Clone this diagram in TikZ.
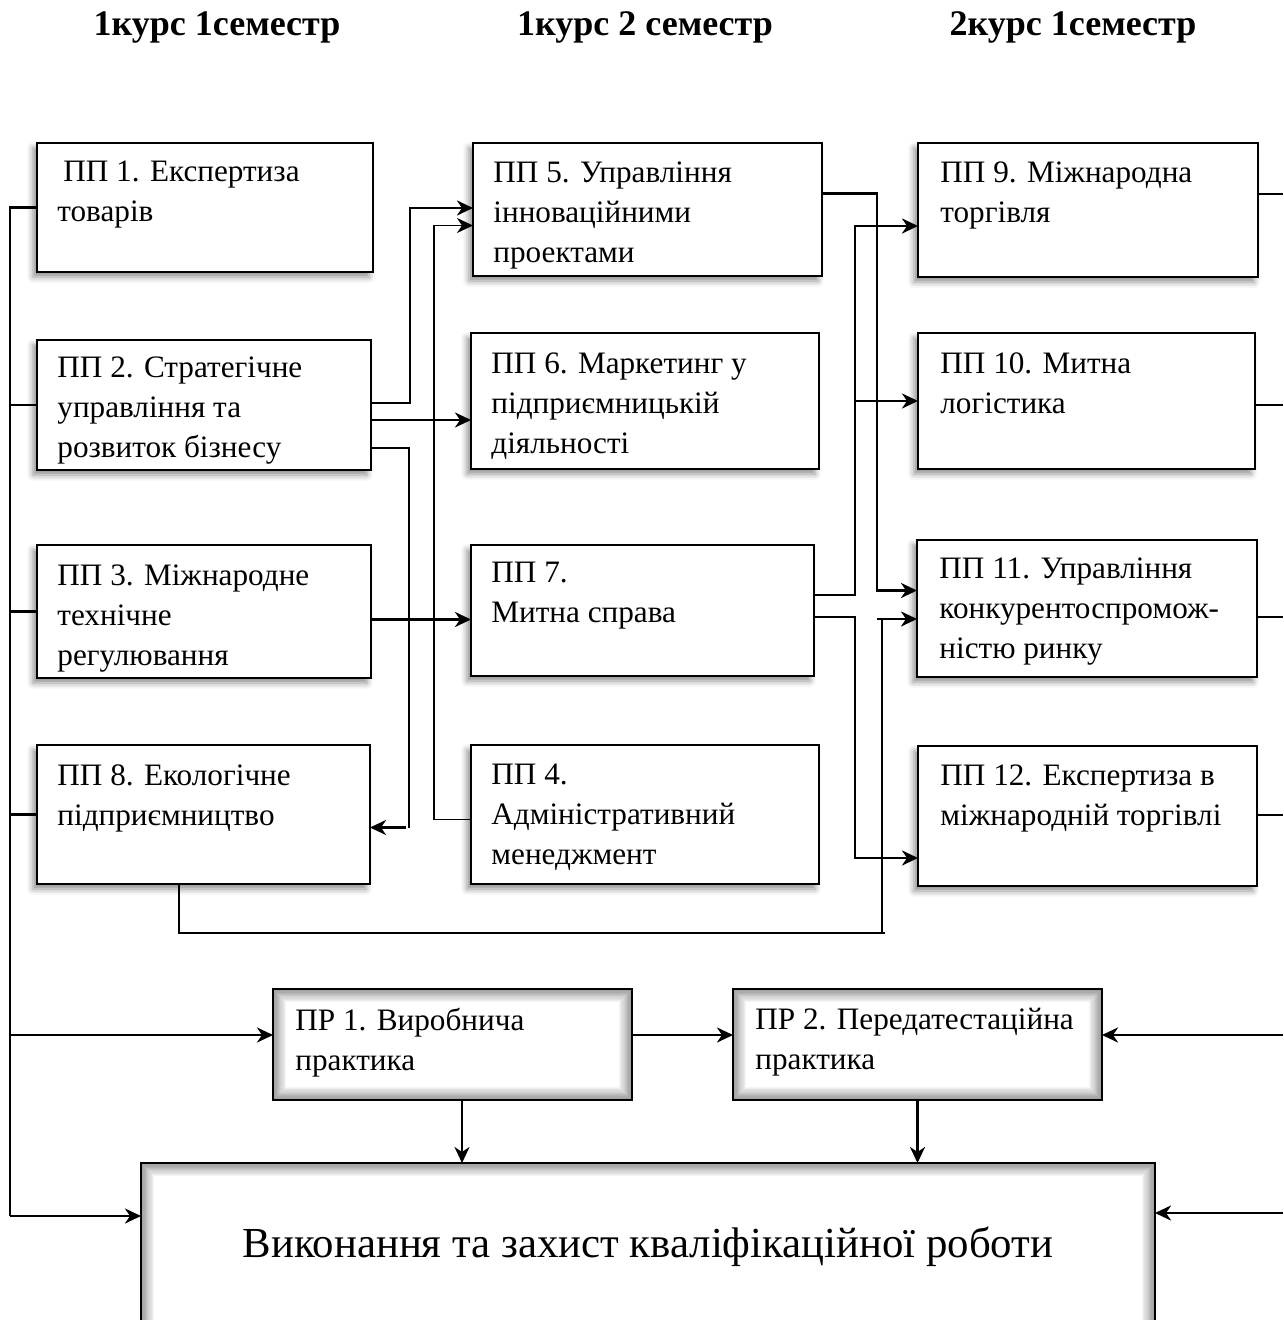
\documentclass[tikz,border=0pt]{standalone}
\usepackage{fontspec}
\setmainfont{Liberation Serif}
\usetikzlibrary{arrows.meta,shadows.blur,calc}
\tikzset{
  pbox/.style={rectangle, draw=black, line width=1.3pt, fill=white, inner sep=0pt, outer sep=0pt,
    blur shadow={shadow xshift=-2pt, shadow yshift=-2.5pt, shadow blur radius=3pt, shadow opacity=45}},
  sbox/.style={rectangle, draw=black, line width=1.3pt, fill=white, inner sep=0pt, outer sep=0pt},
  btxt/.style={anchor=north west, inner sep=0pt, align=left, font=\fontsize{15.6}{20}\selectfont},
  ttl/.style={anchor=base, inner sep=0pt, font=\fontsize{18}{20}\selectfont\bfseries},
  conn/.style={line width=1.4pt},
  thinconn/.style={line width=0.6pt},
  arr/.style={-{Stealth[length=8pt,width=7.5pt,inset=2.5pt]}},
}
\newcommand\mkbox[6]{% style name x1 y1 x2 y2
  \node[#1, minimum width={(#5-#3)*0.5pt}, minimum height={(#6-#4)*0.5pt}] (#2) at ({(#3+#5)/2},{(#4+#6)/2}) {};}
\newcommand\innershade[1]{%
  \foreach \i in {0,...,11}{%
    \pgfmathsetmacro\c{40-3.6*\i}%
    \pgfmathsetmacro\d{1.2*\i}%
    \fill[black!\c] ($(#1.south west)+(\d,-\d)$) rectangle ($(#1.north east)+(-\d,\d)$);
  }
  \fill[white] ($(#1.south west)+(14.4,-14.4)$) rectangle ($(#1.north east)+(-14.4,14.4)$);
  \draw[line width=1.3pt] (#1.south west) rectangle (#1.north east);}
\begin{document}
\begin{tikzpicture}[x=0.5pt,y=-0.5pt]
\useasboundingbox (0,0) rectangle (1283,1320);
\clip (0,0) rectangle (1283,1320);

% titles
\node[ttl] (h1) at (217,36) {1курс 1семестр};
\node[ttl] (h2) at (645,36) {1курс 2 семестр};
\node[ttl] (h3) at (1073,36) {2курс 1семестр};

% column 1
\mkbox{pbox}{p1}{37}{143}{373}{272}
\mkbox{pbox}{p2}{37}{340}{371}{470}
\mkbox{pbox}{p3}{37}{545}{371}{678}
\mkbox{pbox}{p8}{37}{745}{370}{884}
% column 2
\mkbox{pbox}{p5}{473}{143}{822}{276}
\mkbox{pbox}{p6}{471}{333}{819}{469}
\mkbox{pbox}{p7}{471}{545}{814}{676}
\mkbox{pbox}{p4}{471}{745}{819}{884}
% column 3
\mkbox{pbox}{p9}{918}{143}{1258}{277}
\mkbox{pbox}{p10}{918}{333}{1255}{469}
\mkbox{pbox}{p11}{917}{540}{1257}{677}
\mkbox{pbox}{p12}{918}{746}{1257}{886}
% practice boxes
\mkbox{sbox}{r1}{273}{989}{632}{1100}
\innershade{r1}
\mkbox{sbox}{r2}{733}{989}{1102}{1100}
\innershade{r2}
\mkbox{sbox}{fin}{141}{1163}{1155}{1340}
\innershade{fin}

% texts
\node[btxt] (t1) at (57,161) {\hspace*{3pt}ПП 1. Експертиза\\товарів};
\node[btxt] (t2) at (57,356) {ПП 2. Стратегічне\\управління та\\розвиток бізнесу};
\node[btxt] (t3) at (57,564) {ПП 3. Міжнародне\\технічне\\регулювання};
\node[btxt] (t8) at (57,764) {ПП 8. Екологічне\\підприємництво};
\node[btxt] (t5) at (493,161) {ПП 5. Управління\\інноваційними\\проектами};
\node[btxt] (t6) at (491,352) {ПП 6. Маркетинг у\\підприємницькій\\діяльності};
\node[btxt] (t7) at (491,562) {ПП 7.\\Митна справа};
\node[btxt] (t4) at (491,764) {ПП 4.\\Адміністративний\\менеджмент};
\node[btxt] (t9) at (940,161) {ПП 9. Міжнародна\\торгівля};
\node[btxt] (t10) at (940,352) {ПП 10. Митна\\логістика};
\node[btxt] (t11) at (939,557) {ПП 11. Управління\\конкурентоспромож-\\ністю ринку};
\node[btxt] (t12) at (940,764) {ПП 12. Експертиза в\\міжнародній торгівлі};
\node[btxt] (tr1) at (295,1008) {ПР 1. Виробнича\\практика};
\node[btxt] (tr2) at (755,1008) {ПР 2. Передатестаційна\\практика};
\node[anchor=base, inner sep=0pt, font=\fontsize{21.4}{26}\selectfont] (tf) at (648,1257) {Виконання та захист кваліфікаційної роботи};

% left bus
\coordinate (Lbot) at (10,1216);
\coordinate (Lpr) at (10,1035);
\draw[conn] (p1.west) -| (Lbot);
\draw[conn] (p2.west) -- (p2.west -| Lbot);
\draw[conn] (p3.west) -- (p3.west -| Lbot);
\draw[conn] (p8.west) -- (p8.west -| Lbot);
\draw[conn,arr] (Lpr) -- (Lpr -| r1.west);
\draw[conn,arr] (Lbot) -- (Lbot -| fin.west);

% right side
\coordinate (R9) at (1283,194);
\coordinate (R10) at (1283,405);
\coordinate (R11) at (1283,617);
\coordinate (R12) at (1283,815);
\coordinate (Rpr) at (1283,1035);
\coordinate (Rfin) at (1283,1213);
\draw[conn] (R9 -| p9.east) -- (R9);
\draw[conn] (R10 -| p10.east) -- (R10);
\draw[conn] (R11 -| p11.east) -- (R11);
\draw[conn] (R12 -| p12.east) -- (R12);
\draw[conn,arr] (Rpr) -- (Rpr -| r2.east);
\draw[conn,arr] (Rfin) -- (Rfin -| fin.east);

% column 1 -> column 2
\draw[conn,arr] ($(p2.east)+(0,-2)$) -- ++(39,0) |- ($(p5.west)+(0,-1.5)$);
\draw[line width=0.9pt,arr] ($(p4.west)+(0,5)$) -- ++(-37,0) |- ($(p5.west)+(0,16)$);
\coordinate (c26) at ($(p2.east)+(0,15)$);
\draw[conn,arr] (c26) -- (c26 -| p6.west);
\coordinate (c28) at ($(p2.east)+(0,43)$);
\draw[thinconn] (c28) -- ++(38,0) |- ($(p8.east)+(38,13)$);
\draw[conn,arr] ($(p8.east)+(36,13)$) -- ($(p8.east)+(0,13)$);
\coordinate (c37) at ($(p3.east)+(0,8)$);
\draw[conn,arr] (c37) -- (c37 -| p7.west);

% column 2 -> column 3
\draw[conn,arr] ($(p5.east)+(0,-16)$) -- ++(55,0) |- ($(p11.west)+(0,-18)$);
\coordinate (c7a) at ($(p7.east)+(0,-15.5)$);
\coordinate (j7) at ($(c7a)+(41,0)$);
\draw[conn,arr] (c7a) -- (j7) |- ($(p9.west)+(0,16)$);
\draw[conn,arr] (j7 |- p10.west) -- (p10.west);
\draw[conn,arr] ($(p7.east)+(0,6.5)$) -- ++(41,0) |- ($(p12.west)+(0,42)$);

% PP8 -> PP11
\coordinate (c811) at ($(p11.west)+(0,10.5)$);
\coordinate (k) at ($(c811)+(-35,0)$);
\draw[thinconn] ($(p8.south)+(-24.5,0)$) |- ($(k)+(3,314)$);
\draw[thinconn] ($(k)+(0,314)$) -- (k);
\draw[conn,arr] ($(k)+(-5,0)$) -- (c811);

% practice
\coordinate (c12) at ($(r1.east)+(0,-9.5)$);
\draw[conn,arr] (c12) -- (c12 -| r2.west);
\coordinate (d1) at ($(r1.south)+(9.5,0)$);
\draw[conn,arr] (d1) -- (d1 |- fin.north);
\draw[conn,arr] (r2.south) -- (r2.south |- fin.north);
\end{tikzpicture}
\end{document}
